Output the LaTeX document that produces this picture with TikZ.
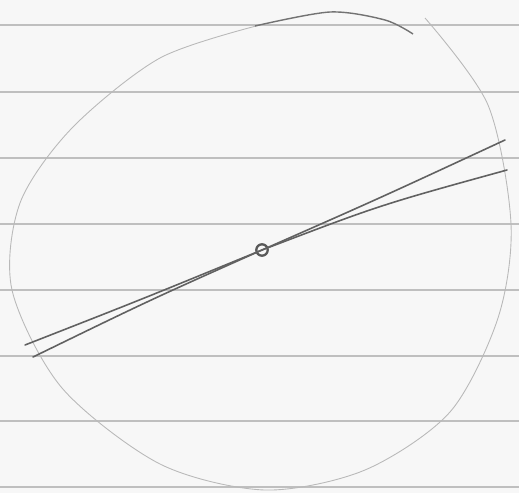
\documentclass[tikz,border=0pt]{standalone}
\usetikzlibrary{calc}

\tikzset{
  ruled/.style={gray!50,line width=0.6pt},
  rim/.style={gray!55,line width=0.5pt},
  stroke/.style={black!62,line width=0.9pt,line cap=round}
}

\begin{document}
\begin{tikzpicture}[x=0.02cm,y=-0.02cm]
  \useasboundingbox[fill=black!3] (0,0) rectangle (519,493);
  % paper lines
  \foreach \y in {25,92,158,224,290,356,421,487}
    \draw[ruled] (0,\y) -- (519,\y);
  % hand drawn circle
  \draw[rim] plot[smooth] coordinates {(425,18) (488,105) (511,224) (498,318)
    (450,412) (365,470) (265,490) (160,464) (62,388) (12,290) (20,203)
    (72,128) (160,58) (260,25)};
  \draw[black!55,line width=0.8pt] plot[smooth] coordinates {(255,26) (330,12) (385,20) (413,34)};
  % centre and the two strokes
  \node[draw=black!65,circle,line width=1.3pt,inner sep=0pt,minimum size=6.5pt] (o) at (262,250) {};
  \coordinate (a1) at (25,345);
  \coordinate (b1) at (505,140);
  \coordinate (a2) at (33,357);
  \coordinate (b2) at (507,170);
  \draw[stroke] (a1) .. controls (140,300) .. (o.center) .. controls (380,198) .. (b1);
  \draw[stroke] (a2) .. controls (150,300) .. (o.center) .. controls (380,205) .. (b2);
\end{tikzpicture}
\end{document}
